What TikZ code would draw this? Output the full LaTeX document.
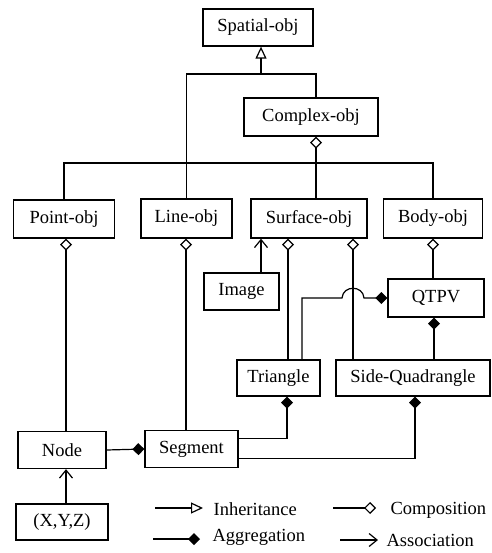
\documentclass[tikz,border=0pt]{standalone}
\usepackage{fontspec}
\setmainfont{Liberation Serif}
\usetikzlibrary{arrows.meta,calc}
\begin{document}
\begin{tikzpicture}[x=1pt,y=-1pt,line width=1.2pt,
  box/.style={draw,line width=1.3pt,minimum height=37pt,inner sep=0pt,font=\rmfamily\fontsize{18.5}{20}\selectfont},
  lbl/.style={anchor=base west,inner sep=0pt,font=\rmfamily\fontsize{18.5}{20}\selectfont},
  inh/.style={-{Triangle[open,length=12pt,width=11pt]}},
  comp/.style={-{Diamond[open,length=12pt,width=12pt]}},
  agg/.style={-{Diamond[length=12pt,width=12pt]}},
  assoc/.style={-{Straight Barb[length=8pt,width=13pt]}}]
\useasboundingbox (0,0) rectangle (491,553);
% boxes
\node[box,minimum width=110pt] (spatial) at (258,27.5) {Spatial-obj};
\node[box,minimum width=134pt,minimum height=38pt] (complex) at (311,117) {Complex-obj};
\node[box,minimum width=101pt,minimum height=38pt] (point) at (64,219) {Point-obj};
\node[box,minimum width=91pt,minimum height=39pt] (line) at (186.5,218.5) {Line-obj};
\node[box,minimum width=116pt,minimum height=39pt] (surface) at (309,218.5) {Surface-obj};
\node[box,minimum width=99pt,minimum height=39pt] (body) at (433,218.5) {Body-obj};
\node[box,minimum width=75pt] (image) at (241.5,291.5) {Image};
\node[box,minimum width=96pt,minimum height=38pt] (qtpv) at (436,298) {QTPV};
\node[box,minimum width=83pt,minimum height=36pt] (triangle) at (278.5,378) {Triangle};
\node[box,minimum width=154pt,minimum height=36pt] (sideq) at (413,378) {Side-Quadrangle};
\node[box,minimum width=93pt,minimum height=37pt] (segment) at (191.5,449) {Segment};
\node[box,minimum width=88pt,minimum height=37pt] (node) at (62,450) {Node};
\node[box,minimum width=92pt,minimum height=36pt] (xyz) at (62,522) {(X,Y,Z)};
% helper coordinates
\coordinate (J) at (261,74);
\coordinate (C) at (316,74);
\coordinate (B) at (316,163);
\coordinate (X1) at (66,0);
\coordinate (X2) at (186,0);
\coordinate (X3) at (288,0);
\coordinate (X4) at (353,0);
\coordinate (X5) at (302,0);
\coordinate (X6) at (434,0);
\coordinate (X7) at (287,0);
\coordinate (X8) at (415,0);
\coordinate (XI) at (261,0);
% inheritance
\draw[inh] (line.north) |- (J) -- (J |- spatial.south);
\draw (complex.north -| C) -- (C) -- (J);
% composition bus
\draw[comp] (B) -- (B |- complex.south);
\draw (point.north) |- (body.north |- B) -- (body.north);
\draw (B) -- (surface.north -| B);
% compositions
\draw[comp] (node.north -| X1) -- (point.south -| X1);
\draw[comp] (segment.north -| X2) -- (line.south -| X2);
\draw[comp] (triangle.north -| X3) -- (surface.south -| X3);
\draw[comp] (sideq.north -| X4) -- (surface.south -| X4);
\draw[comp] (qtpv.north -| body.south) -- (body.south);
% association
\draw[assoc] (image.north -| XI) -- (surface.south -| XI);
\draw[assoc] (xyz.north -| X1) -- (node.south -| X1);
% aggregations
\draw[agg] (triangle.north -| X5) |- (342,298) .. controls (343,285) and (363,285) .. (364,298) -- (qtpv.west);
\draw[agg] (sideq.north -| X6) -- (qtpv.south -| X6);
\draw[agg] ($(segment.north east)+(0,9)$) -| (triangle.south -| X7);
\draw[agg] ($(segment.south east)+(0,-10)$) -| (sideq.south -| X8);
\draw[agg] (node.east) -- (segment.west);
% legend
\coordinate (l1) at (155,508);
\coordinate (l1e) at (203,508);
\draw[inh] (l1) -- (l1e);
\node[lbl] (t1) at (213,515) {Inheritance};
\coordinate (l2) at (153,539);
\coordinate (l2e) at (200,539);
\draw[agg] (l2) -- (l2e);
\node[lbl] (t2) at (212,541) {Aggregation};
\coordinate (l3) at (333,508);
\coordinate (l3e) at (376,508);
\draw[comp] (l3) -- (l3e);
\node[lbl] (t3) at (390,514) {Composition};
\coordinate (l4) at (340,540);
\coordinate (l4e) at (378,540);
\draw[assoc] (l4) -- (l4e);
\node[lbl] (t4) at (386,546) {Association};
\end{tikzpicture}
\end{document}
